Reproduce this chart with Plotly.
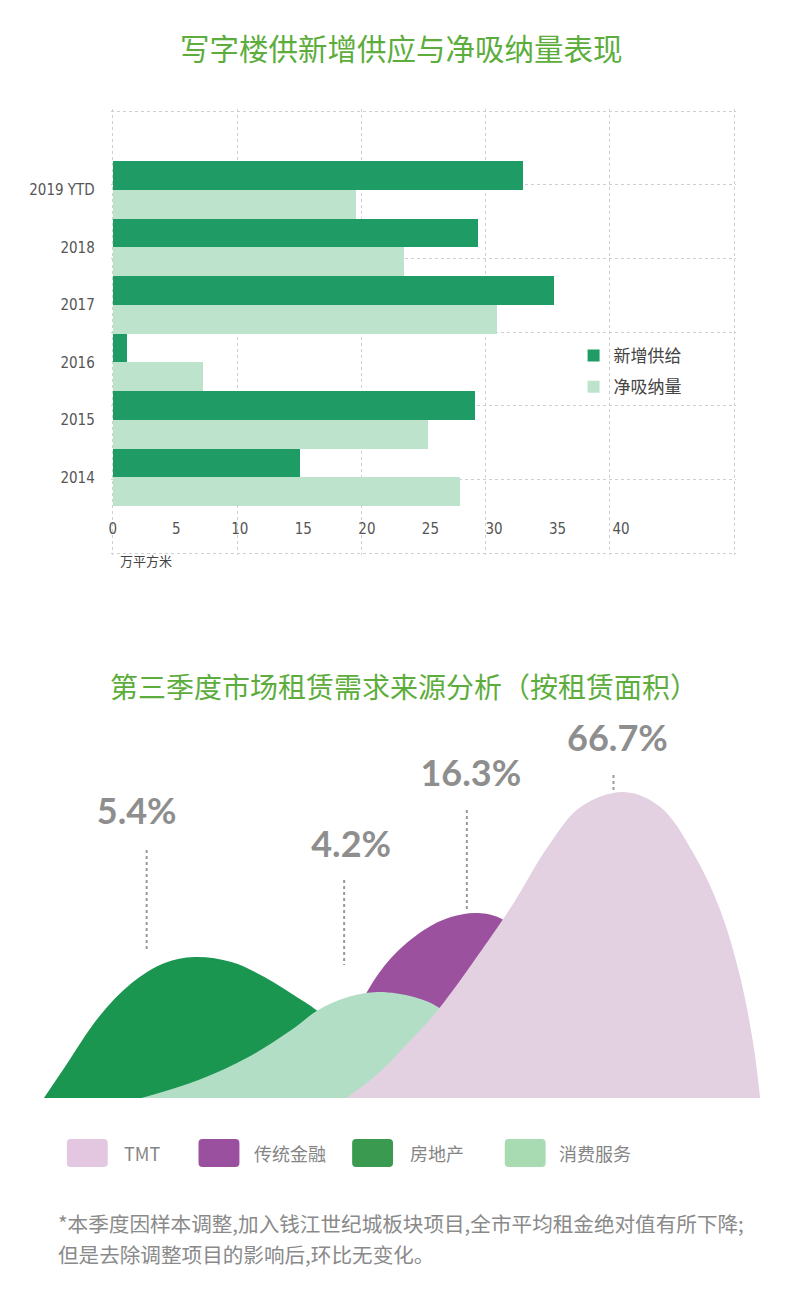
import plotly.graph_objects as go

# page body adds an 8px margin, so the figure is drawn 8px smaller and offset
OFF = 8
W, H = 800 - OFF, 1295 - OFF

# ---- top chart data ----
years = ["2014", "2015", "2016", "2017", "2018", "2019 YTD"]
new_supply = [14.7, 28.5, 1.1, 34.7, 28.7, 32.3]
net_absorption = [27.3, 24.8, 7.1, 30.2, 22.9, 19.1]
x_ticks = [0, 5, 10, 15, 20, 25, 30, 35, 40]

# ---- bottom chart data (outline points, height above baseline) ----
sectors = ["TMT", "传统金融", "房地产", "消费服务"]
shares = ["66.7%", "16.3%", "5.4%", "4.2%"]
sector_colors = ["#e3d1e2", "#9c519f", "#1a9651", "#b3dec6"]
legend_colors = ["#e3c6df", "#9b4f9f", "#3a9a50", "#a9dbb2"]

tmt_x = [345, 373, 407, 437, 490, 513, 547, 580, 623, 660, 693, 720, 740, 753, 760]
tmt_h = [0, 21, 55, 88, 161, 195, 251, 291, 306, 291, 245, 188, 121, 55, 0]
finance_x = [320, 345, 367, 390, 423, 450, 477, 503, 540, 570, 592]
finance_h = [0, 62, 108, 140, 168, 181, 185, 178, 140, 80, 0]
realestate_x = [42, 63, 97, 130, 163, 193, 230, 263, 297, 315, 350, 385, 400]
realestate_h = [0, 31, 81, 115, 135, 141, 136, 121, 100, 88, 55, 15, 0]
consumer_x = [140, 197, 247, 290, 317, 347, 377, 413, 437, 470, 500, 520]
consumer_h = [0, 18, 41, 68, 88, 101, 106, 101, 91, 62, 25, 0]

label_x = [617, 470, 135, 350]
label_h = [356, 321, 283, 250]
leader_x = [613, 466, 145, 343]
leader_top = [323, 288, 248, 218]
leader_bottom = [306, 186, 148, 133]

legend_box_left = [65, 197, 351, 504]
legend_text_left = [120, 251, 407, 556]

CJK = "Noto Sans CJK SC"
NARROW = "Liberation Sans Narrow, DejaVu Sans Condensed, sans-serif"


def px(v):
    return (v - OFF) / W


def py(v):
    return 1 - (v - OFF) / H


fig = go.Figure()

fig.add_trace(go.Bar(
    y=years, x=net_absorption, name="净吸纳量", orientation="h",
    marker=dict(color="#bee3cc", line=dict(width=0)),
    xaxis="x2", yaxis="y2", legendgroup="b", legendrank=2,
))
fig.add_trace(go.Bar(
    y=years, x=new_supply, name="新增供给", orientation="h",
    marker=dict(color="#1f9c65", line=dict(width=0)),
    xaxis="x2", yaxis="y2", legendgroup="a", legendrank=1,
))
# empty trace so the grid axes get drawn
fig.add_trace(go.Scatter(x=[None], y=[None], xaxis="x", yaxis="y",
                         showlegend=False, hoverinfo="skip"))

# humps, back to front
humps = [
    (realestate_x, realestate_h, sector_colors[2], sectors[2]),
    (finance_x, finance_h, sector_colors[1], sectors[1]),
    (consumer_x, consumer_h, sector_colors[3], sectors[3]),
    (tmt_x, tmt_h, sector_colors[0], sectors[0]),
]
for hx, hh, col, name in humps:
    fig.add_trace(go.Scatter(
        x=hx, y=hh, mode="lines", fill="toself", fillcolor=col,
        line=dict(width=0, shape="spline", smoothing=1.0, color=col),
        xaxis="x3", yaxis="y3", showlegend=False, name=name, hoverinfo="skip",
    ))

for lx, lt, lb in zip(leader_x, leader_top, leader_bottom):
    fig.add_trace(go.Scatter(
        x=[lx, lx], y=[lt, lb], mode="lines",
        line=dict(color="#9a9a9a", width=2, dash="dot"),
        xaxis="x3", yaxis="y3", showlegend=False, hoverinfo="skip",
    ))

fig.add_trace(go.Scatter(
    x=label_x, y=label_h, mode="text", text=shares,
    textfont=dict(family="Lato, sans-serif", size=36, color="#8e8e8e", weight="bold"),
    xaxis="x3", yaxis="y3", showlegend=False, hoverinfo="skip", cliponaxis=False,
))

# grid frame: 5 x 6 dotted cells, padded 2px so the outer border is kept
pad_x = 2 / 124.6
pad_y = 2 / 73.7
grid = dict(showgrid=True, gridcolor="#cfcfcf", griddash="dot", gridwidth=1,
            zeroline=False, showticklabels=False, ticks="", fixedrange=True)

fig.update_layout(
    width=W, height=H,
    margin=dict(l=0, r=0, t=0, b=0),
    paper_bgcolor="white", plot_bgcolor="rgba(0,0,0,0)",
    barmode="group", bargap=0, bargroupgap=0,
    showlegend=True,
    legend=dict(
        x=px(573), y=py(338), xanchor="left", yanchor="top",
        traceorder="grouped", tracegroupgap=6,
        font=dict(family=CJK, size=17, color="#444444"),
        bgcolor="rgba(0,0,0,0)",
    ),
    xaxis=dict(domain=[px(109), px(736)], range=[-pad_x, 5 + pad_x], dtick=1,
               anchor="y", **grid),
    yaxis=dict(domain=[py(555), py(109)], range=[-pad_y, 6 + pad_y], dtick=1,
               anchor="x", **grid),
    xaxis2=dict(
        overlaying="x", anchor="free", position=py(518),
        range=[-2 / 12.72, 48.9 + 2 / 12.72], tickvals=x_ticks,
        showgrid=False, zeroline=False, showline=False, ticks="",
        tickfont=dict(family=NARROW, size=15, color="#555555"),
    ),
    yaxis2=dict(
        overlaying="y", anchor="free", position=px(109), side="left",
        type="category", categoryorder="array", categoryarray=years,
        range=[-1.352, 6.405], showgrid=False, zeroline=False, showline=False,
        ticks="", ticklabelstandoff=16,
        tickfont=dict(family=NARROW, size=15, color="#555555"),
    ),
    xaxis3=dict(domain=[0, 1], range=[OFF, OFF + W], anchor="y3", visible=False,
                fixedrange=True),
    yaxis3=dict(domain=[py(1098), py(720)], range=[0, 378], anchor="x3",
                visible=False, fixedrange=True),
)


def note(text, x, y, size, color, xanchor="left"):
    return dict(text=text, x=px(x), y=py(y), xref="paper", yref="paper",
                xanchor=xanchor, yanchor="middle", showarrow=False,
                font=dict(family=CJK, size=size, color=color))


annotations = [
    note("写字楼供新增供应与净吸纳量表现", 400, 47, 29.5, "#5cad3c", "center"),
    note("万平方米", 116, 560, 13, "#444444"),
    note("第三季度市场租赁需求来源分析（按租赁面积）", 106, 686, 28, "#5cad3c"),
    note("*本季度因样本调整,加入钱江世纪城板块项目,全市平均租金绝对值有所下降;",
         54, 1223, 20.6, "#8a8a8a"),
    note("但是去除调整项目的影响后,环比无变化。", 54, 1254, 20.6, "#8a8a8a"),
]

shapes = []
r = 4
for left, tleft, name, col in zip(legend_box_left, legend_text_left, sectors, legend_colors):
    x0, x1 = px(left), px(left + 41)
    y0, y1 = py(1167), py(1139)
    rx, ry = r / W, r / H
    path = (f"M{x0 + rx},{y1} L{x1 - rx},{y1} Q{x1},{y1} {x1},{y1 - ry} "
            f"L{x1},{y0 + ry} Q{x1},{y0} {x1 - rx},{y0} L{x0 + rx},{y0} "
            f"Q{x0},{y0} {x0},{y0 + ry} L{x0},{y1 - ry} Q{x0},{y1} {x0 + rx},{y1} Z")
    shapes.append(dict(type="path", path=path, xref="paper", yref="paper",
                       fillcolor=col, line=dict(width=0)))
    annotations.append(note(name, tleft, 1153, 18, "#858585"))

fig.update_layout(annotations=annotations, shapes=shapes)

fig.write_html("out.html")
